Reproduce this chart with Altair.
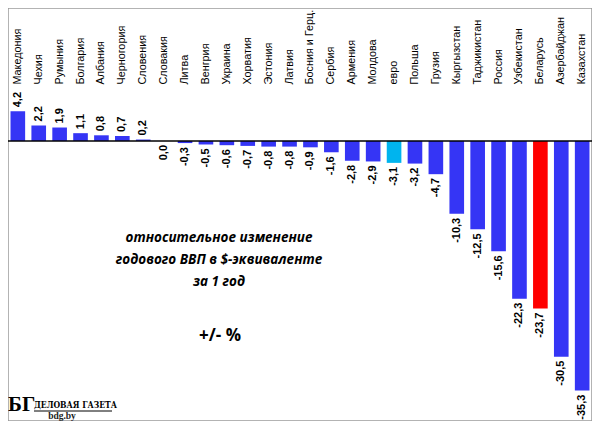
import altair as alt
import pandas as pd

countries = [
    "Македония", "Чехия", "Румыния", "Болгария", "Албания", "Черногория",
    "Словения", "Словакия", "Литва", "Венгрия", "Украина", "Хорватия",
    "Эстония", "Латвия", "Босния и Герц.", "Сербия", "Армения", "Молдова",
    "евро", "Польша", "Грузия", "Кыргызстан", "Таджикистан", "Россия",
    "Узбекистан", "Беларусь", "Азербайджан", "Казахстан",
]
changes = [
    4.2, 2.2, 1.9, 1.1, 0.8, 0.7,
    0.2, 0.0, -0.3, -0.5, -0.6, -0.7,
    -0.8, -0.8, -0.9, -1.6, -2.8, -2.9,
    -3.1, -3.2, -4.7, -10.3, -12.5, -15.6,
    -22.3, -23.7, -30.5, -35.3,
]
highlighted = ["евро", "Беларусь"]

note_lines = ["относительное изменение", "годового  ВВП в $-эквиваленте", "за 1 год"]
unit_note = "+/- %"
logo_mark = "БГ"
logo_name = "ДЕЛОВАЯ ГАЗЕТА"
logo_site = "bdg.by"

df = pd.DataFrame({"country": countries, "change": changes})
df["label"] = df["change"].map(lambda v: f"{v:.1f}".replace(".", ","))
df["kind"] = df["country"].where(df["country"].isin(highlighted), "прочие")

one_row = pd.DataFrame({"n": [0]})

W, H = 584, 413

x_enc = alt.X(
    "country:N",
    sort=countries,
    scale=alt.Scale(paddingInner=0.3, paddingOuter=0.12),
    axis=alt.Axis(
        orient="top", offset=-76, labelAngle=270, labelAlign="left",
        labelBaseline="middle", labelPadding=0, domain=False, ticks=False,
        labelFont="Liberation Sans", labelFontSize=10.8, labelColor="black",
        labelLimit=200, title=None,
    ),
)
y_scale = alt.Scale(domain=[-39.6, 18.8], nice=False, zero=False)

base = alt.Chart(df).encode(x=x_enc)

bars = base.mark_bar().encode(
    y=alt.Y("change:Q", scale=y_scale, axis=None),
    y2=alt.datum(0),
    color=alt.Color(
        "kind:N",
        scale=alt.Scale(domain=["прочие", "евро", "Беларусь"],
                        range=["#3535f5", "#00b4ee", "#ff0000"]),
        legend=None,
    ),
)

label_style = dict(angle=270, baseline="middle", fontWeight="bold",
                   fontSize=11, font="Liberation Sans", color="black")
pos_labels = base.transform_filter("datum.change > 0").mark_text(
    align="left", dx=4, **label_style
).encode(y=alt.Y("change:Q", scale=y_scale), text="label:N")
neg_labels = base.transform_filter("datum.change <= 0").mark_text(
    align="right", dx=-4, **label_style
).encode(y=alt.Y("change:Q", scale=y_scale), text="label:N")

zero_line = alt.Chart(one_row).mark_rule(color="black", strokeWidth=1.5).encode(
    y=alt.datum(0, scale=y_scale)
)

note = alt.Chart(one_row).mark_text(
    text=note_lines, font="Open Sans", fontSize=13.5, fontStyle="italic",
    fontWeight="bold", lineHeight=22, align="center", baseline="top",
    color="black",
).encode(x=alt.value(211), y=alt.value(223))

unit = alt.Chart(one_row).mark_text(
    text=unit_note, font="Open Sans", fontSize=17, fontWeight="bold",
    align="center", baseline="middle", color="black",
).encode(x=alt.value(212), y=alt.value(328))

logo_big = alt.Chart(one_row).mark_text(
    text=logo_mark, font="Liberation Serif", fontSize=21, fontWeight="bold",
    align="left", baseline="alphabetic", color="black",
).encode(x=alt.value(0), y=alt.value(403))
logo_title = alt.Chart(one_row).mark_text(
    text=logo_name, font="DejaVu Serif Condensed", fontSize=8.5,
    fontWeight="bold", align="left", baseline="alphabetic", color="black",
).encode(x=alt.value(26), y=alt.value(400))
logo_line = alt.Chart(one_row).mark_rule(color="black", strokeWidth=1).encode(
    x=alt.value(26), x2=alt.value(104), y=alt.value(403)
)
logo_url = alt.Chart(one_row).mark_text(
    text=logo_site, font="Liberation Serif", fontSize=9.5, fontWeight="bold",
    align="center", baseline="alphabetic", color="#222",
).encode(x=alt.value(54), y=alt.value(411))

chart = (
    alt.layer(bars, zero_line, pos_labels, neg_labels, note, unit,
              logo_big, logo_title, logo_line, logo_url)
    .properties(width=W, height=H, autosize=alt.AutoSizeParams(type="none"),
                padding=0, background="white")
    .configure_view(stroke="#9a9a9a", strokeWidth=1.5)
)

chart.save("out.html", embed_options={"renderer": "svg", "actions": False})
